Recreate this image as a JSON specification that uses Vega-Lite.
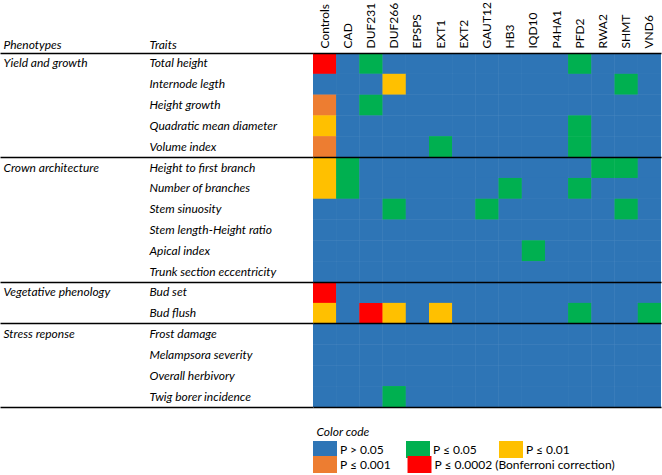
{
  "$schema": "https://vega.github.io/schema/vega-lite/v6.json",
  "width": 348,
  "height": 354,
  "autosize": {"type": "none"},
  "padding": {"left": 313, "top": 53, "right": 1, "bottom": 68},
  "config": {
    "view": {"stroke": null},
    "font": "Lato",
    "axis": {"labelFont": "Lato", "titleFont": "Lato", "labelColor": "#000", "titleColor": "#000"},
    "legend": {"titleFont": "Lato", "labelFont": "Lato", "titleColor": "#000", "labelColor": "#000"}
  },
  "data": {"values": [
    {"trait":"Total height","gene":"Controls","p":"P ≤ 0.0002 (Bonferroni correction)"},
    {"trait":"Total height","gene":"CAD","p":"P > 0.05"},
    {"trait":"Total height","gene":"DUF231","p":"P ≤ 0.05"},
    {"trait":"Total height","gene":"DUF266","p":"P > 0.05"},
    {"trait":"Total height","gene":"EPSPS","p":"P > 0.05"},
    {"trait":"Total height","gene":"EXT1","p":"P > 0.05"},
    {"trait":"Total height","gene":"EXT2","p":"P > 0.05"},
    {"trait":"Total height","gene":"GAUT12","p":"P > 0.05"},
    {"trait":"Total height","gene":"HB3","p":"P > 0.05"},
    {"trait":"Total height","gene":"IQD10","p":"P > 0.05"},
    {"trait":"Total height","gene":"P4HA1","p":"P > 0.05"},
    {"trait":"Total height","gene":"PFD2","p":"P ≤ 0.05"},
    {"trait":"Total height","gene":"RWA2","p":"P > 0.05"},
    {"trait":"Total height","gene":"SHMT","p":"P > 0.05"},
    {"trait":"Total height","gene":"VND6","p":"P > 0.05"},
    {"trait":"Internode legth","gene":"Controls","p":"P > 0.05"},
    {"trait":"Internode legth","gene":"CAD","p":"P > 0.05"},
    {"trait":"Internode legth","gene":"DUF231","p":"P > 0.05"},
    {"trait":"Internode legth","gene":"DUF266","p":"P ≤ 0.01"},
    {"trait":"Internode legth","gene":"EPSPS","p":"P > 0.05"},
    {"trait":"Internode legth","gene":"EXT1","p":"P > 0.05"},
    {"trait":"Internode legth","gene":"EXT2","p":"P > 0.05"},
    {"trait":"Internode legth","gene":"GAUT12","p":"P > 0.05"},
    {"trait":"Internode legth","gene":"HB3","p":"P > 0.05"},
    {"trait":"Internode legth","gene":"IQD10","p":"P > 0.05"},
    {"trait":"Internode legth","gene":"P4HA1","p":"P > 0.05"},
    {"trait":"Internode legth","gene":"PFD2","p":"P > 0.05"},
    {"trait":"Internode legth","gene":"RWA2","p":"P > 0.05"},
    {"trait":"Internode legth","gene":"SHMT","p":"P ≤ 0.05"},
    {"trait":"Internode legth","gene":"VND6","p":"P > 0.05"},
    {"trait":"Height growth","gene":"Controls","p":"P ≤ 0.001"},
    {"trait":"Height growth","gene":"CAD","p":"P > 0.05"},
    {"trait":"Height growth","gene":"DUF231","p":"P ≤ 0.05"},
    {"trait":"Height growth","gene":"DUF266","p":"P > 0.05"},
    {"trait":"Height growth","gene":"EPSPS","p":"P > 0.05"},
    {"trait":"Height growth","gene":"EXT1","p":"P > 0.05"},
    {"trait":"Height growth","gene":"EXT2","p":"P > 0.05"},
    {"trait":"Height growth","gene":"GAUT12","p":"P > 0.05"},
    {"trait":"Height growth","gene":"HB3","p":"P > 0.05"},
    {"trait":"Height growth","gene":"IQD10","p":"P > 0.05"},
    {"trait":"Height growth","gene":"P4HA1","p":"P > 0.05"},
    {"trait":"Height growth","gene":"PFD2","p":"P > 0.05"},
    {"trait":"Height growth","gene":"RWA2","p":"P > 0.05"},
    {"trait":"Height growth","gene":"SHMT","p":"P > 0.05"},
    {"trait":"Height growth","gene":"VND6","p":"P > 0.05"},
    {"trait":"Quadratic mean diameter","gene":"Controls","p":"P ≤ 0.01"},
    {"trait":"Quadratic mean diameter","gene":"CAD","p":"P > 0.05"},
    {"trait":"Quadratic mean diameter","gene":"DUF231","p":"P > 0.05"},
    {"trait":"Quadratic mean diameter","gene":"DUF266","p":"P > 0.05"},
    {"trait":"Quadratic mean diameter","gene":"EPSPS","p":"P > 0.05"},
    {"trait":"Quadratic mean diameter","gene":"EXT1","p":"P > 0.05"},
    {"trait":"Quadratic mean diameter","gene":"EXT2","p":"P > 0.05"},
    {"trait":"Quadratic mean diameter","gene":"GAUT12","p":"P > 0.05"},
    {"trait":"Quadratic mean diameter","gene":"HB3","p":"P > 0.05"},
    {"trait":"Quadratic mean diameter","gene":"IQD10","p":"P > 0.05"},
    {"trait":"Quadratic mean diameter","gene":"P4HA1","p":"P > 0.05"},
    {"trait":"Quadratic mean diameter","gene":"PFD2","p":"P ≤ 0.05"},
    {"trait":"Quadratic mean diameter","gene":"RWA2","p":"P > 0.05"},
    {"trait":"Quadratic mean diameter","gene":"SHMT","p":"P > 0.05"},
    {"trait":"Quadratic mean diameter","gene":"VND6","p":"P > 0.05"},
    {"trait":"Volume index","gene":"Controls","p":"P ≤ 0.001"},
    {"trait":"Volume index","gene":"CAD","p":"P > 0.05"},
    {"trait":"Volume index","gene":"DUF231","p":"P > 0.05"},
    {"trait":"Volume index","gene":"DUF266","p":"P > 0.05"},
    {"trait":"Volume index","gene":"EPSPS","p":"P > 0.05"},
    {"trait":"Volume index","gene":"EXT1","p":"P ≤ 0.05"},
    {"trait":"Volume index","gene":"EXT2","p":"P > 0.05"},
    {"trait":"Volume index","gene":"GAUT12","p":"P > 0.05"},
    {"trait":"Volume index","gene":"HB3","p":"P > 0.05"},
    {"trait":"Volume index","gene":"IQD10","p":"P > 0.05"},
    {"trait":"Volume index","gene":"P4HA1","p":"P > 0.05"},
    {"trait":"Volume index","gene":"PFD2","p":"P ≤ 0.05"},
    {"trait":"Volume index","gene":"RWA2","p":"P > 0.05"},
    {"trait":"Volume index","gene":"SHMT","p":"P > 0.05"},
    {"trait":"Volume index","gene":"VND6","p":"P > 0.05"},
    {"trait":"Height to first branch","gene":"Controls","p":"P ≤ 0.01"},
    {"trait":"Height to first branch","gene":"CAD","p":"P ≤ 0.05"},
    {"trait":"Height to first branch","gene":"DUF231","p":"P > 0.05"},
    {"trait":"Height to first branch","gene":"DUF266","p":"P > 0.05"},
    {"trait":"Height to first branch","gene":"EPSPS","p":"P > 0.05"},
    {"trait":"Height to first branch","gene":"EXT1","p":"P > 0.05"},
    {"trait":"Height to first branch","gene":"EXT2","p":"P > 0.05"},
    {"trait":"Height to first branch","gene":"GAUT12","p":"P > 0.05"},
    {"trait":"Height to first branch","gene":"HB3","p":"P > 0.05"},
    {"trait":"Height to first branch","gene":"IQD10","p":"P > 0.05"},
    {"trait":"Height to first branch","gene":"P4HA1","p":"P > 0.05"},
    {"trait":"Height to first branch","gene":"PFD2","p":"P > 0.05"},
    {"trait":"Height to first branch","gene":"RWA2","p":"P ≤ 0.05"},
    {"trait":"Height to first branch","gene":"SHMT","p":"P ≤ 0.05"},
    {"trait":"Height to first branch","gene":"VND6","p":"P > 0.05"},
    {"trait":"Number of branches","gene":"Controls","p":"P ≤ 0.01"},
    {"trait":"Number of branches","gene":"CAD","p":"P ≤ 0.05"},
    {"trait":"Number of branches","gene":"DUF231","p":"P > 0.05"},
    {"trait":"Number of branches","gene":"DUF266","p":"P > 0.05"},
    {"trait":"Number of branches","gene":"EPSPS","p":"P > 0.05"},
    {"trait":"Number of branches","gene":"EXT1","p":"P > 0.05"},
    {"trait":"Number of branches","gene":"EXT2","p":"P > 0.05"},
    {"trait":"Number of branches","gene":"GAUT12","p":"P > 0.05"},
    {"trait":"Number of branches","gene":"HB3","p":"P ≤ 0.05"},
    {"trait":"Number of branches","gene":"IQD10","p":"P > 0.05"},
    {"trait":"Number of branches","gene":"P4HA1","p":"P > 0.05"},
    {"trait":"Number of branches","gene":"PFD2","p":"P ≤ 0.05"},
    {"trait":"Number of branches","gene":"RWA2","p":"P > 0.05"},
    {"trait":"Number of branches","gene":"SHMT","p":"P > 0.05"},
    {"trait":"Number of branches","gene":"VND6","p":"P > 0.05"},
    {"trait":"Stem sinuosity","gene":"Controls","p":"P > 0.05"},
    {"trait":"Stem sinuosity","gene":"CAD","p":"P > 0.05"},
    {"trait":"Stem sinuosity","gene":"DUF231","p":"P > 0.05"},
    {"trait":"Stem sinuosity","gene":"DUF266","p":"P ≤ 0.05"},
    {"trait":"Stem sinuosity","gene":"EPSPS","p":"P > 0.05"},
    {"trait":"Stem sinuosity","gene":"EXT1","p":"P > 0.05"},
    {"trait":"Stem sinuosity","gene":"EXT2","p":"P > 0.05"},
    {"trait":"Stem sinuosity","gene":"GAUT12","p":"P ≤ 0.05"},
    {"trait":"Stem sinuosity","gene":"HB3","p":"P > 0.05"},
    {"trait":"Stem sinuosity","gene":"IQD10","p":"P > 0.05"},
    {"trait":"Stem sinuosity","gene":"P4HA1","p":"P > 0.05"},
    {"trait":"Stem sinuosity","gene":"PFD2","p":"P > 0.05"},
    {"trait":"Stem sinuosity","gene":"RWA2","p":"P > 0.05"},
    {"trait":"Stem sinuosity","gene":"SHMT","p":"P ≤ 0.05"},
    {"trait":"Stem sinuosity","gene":"VND6","p":"P > 0.05"},
    {"trait":"Stem length-Height ratio","gene":"Controls","p":"P > 0.05"},
    {"trait":"Stem length-Height ratio","gene":"CAD","p":"P > 0.05"},
    {"trait":"Stem length-Height ratio","gene":"DUF231","p":"P > 0.05"},
    {"trait":"Stem length-Height ratio","gene":"DUF266","p":"P > 0.05"},
    {"trait":"Stem length-Height ratio","gene":"EPSPS","p":"P > 0.05"},
    {"trait":"Stem length-Height ratio","gene":"EXT1","p":"P > 0.05"},
    {"trait":"Stem length-Height ratio","gene":"EXT2","p":"P > 0.05"},
    {"trait":"Stem length-Height ratio","gene":"GAUT12","p":"P > 0.05"},
    {"trait":"Stem length-Height ratio","gene":"HB3","p":"P > 0.05"},
    {"trait":"Stem length-Height ratio","gene":"IQD10","p":"P > 0.05"},
    {"trait":"Stem length-Height ratio","gene":"P4HA1","p":"P > 0.05"},
    {"trait":"Stem length-Height ratio","gene":"PFD2","p":"P > 0.05"},
    {"trait":"Stem length-Height ratio","gene":"RWA2","p":"P > 0.05"},
    {"trait":"Stem length-Height ratio","gene":"SHMT","p":"P > 0.05"},
    {"trait":"Stem length-Height ratio","gene":"VND6","p":"P > 0.05"},
    {"trait":"Apical index","gene":"Controls","p":"P > 0.05"},
    {"trait":"Apical index","gene":"CAD","p":"P > 0.05"},
    {"trait":"Apical index","gene":"DUF231","p":"P > 0.05"},
    {"trait":"Apical index","gene":"DUF266","p":"P > 0.05"},
    {"trait":"Apical index","gene":"EPSPS","p":"P > 0.05"},
    {"trait":"Apical index","gene":"EXT1","p":"P > 0.05"},
    {"trait":"Apical index","gene":"EXT2","p":"P > 0.05"},
    {"trait":"Apical index","gene":"GAUT12","p":"P > 0.05"},
    {"trait":"Apical index","gene":"HB3","p":"P > 0.05"},
    {"trait":"Apical index","gene":"IQD10","p":"P ≤ 0.05"},
    {"trait":"Apical index","gene":"P4HA1","p":"P > 0.05"},
    {"trait":"Apical index","gene":"PFD2","p":"P > 0.05"},
    {"trait":"Apical index","gene":"RWA2","p":"P > 0.05"},
    {"trait":"Apical index","gene":"SHMT","p":"P > 0.05"},
    {"trait":"Apical index","gene":"VND6","p":"P > 0.05"},
    {"trait":"Trunk section eccentricity","gene":"Controls","p":"P > 0.05"},
    {"trait":"Trunk section eccentricity","gene":"CAD","p":"P > 0.05"},
    {"trait":"Trunk section eccentricity","gene":"DUF231","p":"P > 0.05"},
    {"trait":"Trunk section eccentricity","gene":"DUF266","p":"P > 0.05"},
    {"trait":"Trunk section eccentricity","gene":"EPSPS","p":"P > 0.05"},
    {"trait":"Trunk section eccentricity","gene":"EXT1","p":"P > 0.05"},
    {"trait":"Trunk section eccentricity","gene":"EXT2","p":"P > 0.05"},
    {"trait":"Trunk section eccentricity","gene":"GAUT12","p":"P > 0.05"},
    {"trait":"Trunk section eccentricity","gene":"HB3","p":"P > 0.05"},
    {"trait":"Trunk section eccentricity","gene":"IQD10","p":"P > 0.05"},
    {"trait":"Trunk section eccentricity","gene":"P4HA1","p":"P > 0.05"},
    {"trait":"Trunk section eccentricity","gene":"PFD2","p":"P > 0.05"},
    {"trait":"Trunk section eccentricity","gene":"RWA2","p":"P > 0.05"},
    {"trait":"Trunk section eccentricity","gene":"SHMT","p":"P > 0.05"},
    {"trait":"Trunk section eccentricity","gene":"VND6","p":"P > 0.05"},
    {"trait":"Bud set","gene":"Controls","p":"P ≤ 0.0002 (Bonferroni correction)"},
    {"trait":"Bud set","gene":"CAD","p":"P > 0.05"},
    {"trait":"Bud set","gene":"DUF231","p":"P > 0.05"},
    {"trait":"Bud set","gene":"DUF266","p":"P > 0.05"},
    {"trait":"Bud set","gene":"EPSPS","p":"P > 0.05"},
    {"trait":"Bud set","gene":"EXT1","p":"P > 0.05"},
    {"trait":"Bud set","gene":"EXT2","p":"P > 0.05"},
    {"trait":"Bud set","gene":"GAUT12","p":"P > 0.05"},
    {"trait":"Bud set","gene":"HB3","p":"P > 0.05"},
    {"trait":"Bud set","gene":"IQD10","p":"P > 0.05"},
    {"trait":"Bud set","gene":"P4HA1","p":"P > 0.05"},
    {"trait":"Bud set","gene":"PFD2","p":"P > 0.05"},
    {"trait":"Bud set","gene":"RWA2","p":"P > 0.05"},
    {"trait":"Bud set","gene":"SHMT","p":"P > 0.05"},
    {"trait":"Bud set","gene":"VND6","p":"P > 0.05"},
    {"trait":"Bud flush","gene":"Controls","p":"P ≤ 0.01"},
    {"trait":"Bud flush","gene":"CAD","p":"P > 0.05"},
    {"trait":"Bud flush","gene":"DUF231","p":"P ≤ 0.0002 (Bonferroni correction)"},
    {"trait":"Bud flush","gene":"DUF266","p":"P ≤ 0.01"},
    {"trait":"Bud flush","gene":"EPSPS","p":"P > 0.05"},
    {"trait":"Bud flush","gene":"EXT1","p":"P ≤ 0.01"},
    {"trait":"Bud flush","gene":"EXT2","p":"P > 0.05"},
    {"trait":"Bud flush","gene":"GAUT12","p":"P > 0.05"},
    {"trait":"Bud flush","gene":"HB3","p":"P > 0.05"},
    {"trait":"Bud flush","gene":"IQD10","p":"P > 0.05"},
    {"trait":"Bud flush","gene":"P4HA1","p":"P > 0.05"},
    {"trait":"Bud flush","gene":"PFD2","p":"P ≤ 0.05"},
    {"trait":"Bud flush","gene":"RWA2","p":"P > 0.05"},
    {"trait":"Bud flush","gene":"SHMT","p":"P > 0.05"},
    {"trait":"Bud flush","gene":"VND6","p":"P ≤ 0.05"},
    {"trait":"Frost damage","gene":"Controls","p":"P > 0.05"},
    {"trait":"Frost damage","gene":"CAD","p":"P > 0.05"},
    {"trait":"Frost damage","gene":"DUF231","p":"P > 0.05"},
    {"trait":"Frost damage","gene":"DUF266","p":"P > 0.05"},
    {"trait":"Frost damage","gene":"EPSPS","p":"P > 0.05"},
    {"trait":"Frost damage","gene":"EXT1","p":"P > 0.05"},
    {"trait":"Frost damage","gene":"EXT2","p":"P > 0.05"},
    {"trait":"Frost damage","gene":"GAUT12","p":"P > 0.05"},
    {"trait":"Frost damage","gene":"HB3","p":"P > 0.05"},
    {"trait":"Frost damage","gene":"IQD10","p":"P > 0.05"},
    {"trait":"Frost damage","gene":"P4HA1","p":"P > 0.05"},
    {"trait":"Frost damage","gene":"PFD2","p":"P > 0.05"},
    {"trait":"Frost damage","gene":"RWA2","p":"P > 0.05"},
    {"trait":"Frost damage","gene":"SHMT","p":"P > 0.05"},
    {"trait":"Frost damage","gene":"VND6","p":"P > 0.05"},
    {"trait":"Melampsora severity","gene":"Controls","p":"P > 0.05"},
    {"trait":"Melampsora severity","gene":"CAD","p":"P > 0.05"},
    {"trait":"Melampsora severity","gene":"DUF231","p":"P > 0.05"},
    {"trait":"Melampsora severity","gene":"DUF266","p":"P > 0.05"},
    {"trait":"Melampsora severity","gene":"EPSPS","p":"P > 0.05"},
    {"trait":"Melampsora severity","gene":"EXT1","p":"P > 0.05"},
    {"trait":"Melampsora severity","gene":"EXT2","p":"P > 0.05"},
    {"trait":"Melampsora severity","gene":"GAUT12","p":"P > 0.05"},
    {"trait":"Melampsora severity","gene":"HB3","p":"P > 0.05"},
    {"trait":"Melampsora severity","gene":"IQD10","p":"P > 0.05"},
    {"trait":"Melampsora severity","gene":"P4HA1","p":"P > 0.05"},
    {"trait":"Melampsora severity","gene":"PFD2","p":"P > 0.05"},
    {"trait":"Melampsora severity","gene":"RWA2","p":"P > 0.05"},
    {"trait":"Melampsora severity","gene":"SHMT","p":"P > 0.05"},
    {"trait":"Melampsora severity","gene":"VND6","p":"P > 0.05"},
    {"trait":"Overall herbivory","gene":"Controls","p":"P > 0.05"},
    {"trait":"Overall herbivory","gene":"CAD","p":"P > 0.05"},
    {"trait":"Overall herbivory","gene":"DUF231","p":"P > 0.05"},
    {"trait":"Overall herbivory","gene":"DUF266","p":"P > 0.05"},
    {"trait":"Overall herbivory","gene":"EPSPS","p":"P > 0.05"},
    {"trait":"Overall herbivory","gene":"EXT1","p":"P > 0.05"},
    {"trait":"Overall herbivory","gene":"EXT2","p":"P > 0.05"},
    {"trait":"Overall herbivory","gene":"GAUT12","p":"P > 0.05"},
    {"trait":"Overall herbivory","gene":"HB3","p":"P > 0.05"},
    {"trait":"Overall herbivory","gene":"IQD10","p":"P > 0.05"},
    {"trait":"Overall herbivory","gene":"P4HA1","p":"P > 0.05"},
    {"trait":"Overall herbivory","gene":"PFD2","p":"P > 0.05"},
    {"trait":"Overall herbivory","gene":"RWA2","p":"P > 0.05"},
    {"trait":"Overall herbivory","gene":"SHMT","p":"P > 0.05"},
    {"trait":"Overall herbivory","gene":"VND6","p":"P > 0.05"},
    {"trait":"Twig borer incidence","gene":"Controls","p":"P > 0.05"},
    {"trait":"Twig borer incidence","gene":"CAD","p":"P > 0.05"},
    {"trait":"Twig borer incidence","gene":"DUF231","p":"P > 0.05"},
    {"trait":"Twig borer incidence","gene":"DUF266","p":"P ≤ 0.05"},
    {"trait":"Twig borer incidence","gene":"EPSPS","p":"P > 0.05"},
    {"trait":"Twig borer incidence","gene":"EXT1","p":"P > 0.05"},
    {"trait":"Twig borer incidence","gene":"EXT2","p":"P > 0.05"},
    {"trait":"Twig borer incidence","gene":"GAUT12","p":"P > 0.05"},
    {"trait":"Twig borer incidence","gene":"HB3","p":"P > 0.05"},
    {"trait":"Twig borer incidence","gene":"IQD10","p":"P > 0.05"},
    {"trait":"Twig borer incidence","gene":"P4HA1","p":"P > 0.05"},
    {"trait":"Twig borer incidence","gene":"PFD2","p":"P > 0.05"},
    {"trait":"Twig borer incidence","gene":"RWA2","p":"P > 0.05"},
    {"trait":"Twig borer incidence","gene":"SHMT","p":"P > 0.05"},
    {"trait":"Twig borer incidence","gene":"VND6","p":"P > 0.05"}
  ]},
  "layer": [
    {
      "mark": {"type": "rect"},
      "encoding": {
        "x": {"field": "gene", "type": "nominal",
          "sort": ["Controls","CAD","DUF231","DUF266","EPSPS","EXT1","EXT2","GAUT12","HB3","IQD10","P4HA1","PFD2","RWA2","SHMT","VND6"],
          "axis": {"orient": "top", "title": null, "labelAngle": -90, "labelAlign": "left", "labelBaseline": "middle", "labelPadding": 5, "ticks": false, "domain": false, "labelFontSize": 12, "labelOverlap": false}},
        "y": {"field": "trait", "type": "nominal",
          "sort": ["Total height","Internode legth","Height growth","Quadratic mean diameter","Volume index","Height to first branch","Number of branches","Stem sinuosity","Stem length-Height ratio","Apical index","Trunk section eccentricity","Bud set","Bud flush","Frost damage","Melampsora severity","Overall herbivory","Twig borer incidence"],
          "axis": {"orient": "left", "title": "Traits", "titleAngle": 0, "titleX": -164, "titleY": -5, "titleAlign": "left", "titleBaseline": "alphabetic", "titleFontWeight": "normal", "titleFontStyle": "italic", "titleFontSize": 12,
            "labelAlign": "left", "labelPadding": 164, "ticks": false, "domain": false, "grid": false, "labelFontSize": 12, "labelFontStyle": "italic", "labelOverlap": false, "labelLimit": 300}},
        "color": {"field": "p", "type": "nominal",
          "scale": {"domain": ["P > 0.05","P ≤ 0.05","P ≤ 0.01","P ≤ 0.001","P ≤ 0.0002 (Bonferroni correction)"],
                    "range": ["#2E75B6","#00B050","#FFC000","#ED7D31","#FF0000"]},
          "legend": {"title": "Color code", "values": ["P > 0.05","P ≤ 0.05","P ≤ 0.01"], "orient": "none", "legendX": 3.5, "legendY": 374, "direction": "horizontal", "columns": 3, "columnPadding": 21, "rowPadding": 0,
            "titleFontStyle": "italic", "titleFontWeight": "normal", "titleFontSize": 12, "titlePadding": 2,
            "labelFontSize": 12, "labelOffset": 6.5, "labelLimit": 300,
            "symbolType": "M-1.41,-1L1.41,-1L1.41,1L-1.41,1Z", "symbolSize": 289, "symbolStrokeWidth": 0, "symbolOpacity": 1}}
      }
    },
    {
      "mark": {"type": "rect"},
      "encoding": {
        "x": {"field": "gene", "type": "nominal", "sort": ["Controls","CAD","DUF231","DUF266","EPSPS","EXT1","EXT2","GAUT12","HB3","IQD10","P4HA1","PFD2","RWA2","SHMT","VND6"], "axis": null},
        "y": {"field": "trait", "type": "nominal",
          "sort": ["Total height","Internode legth","Height growth","Quadratic mean diameter","Volume index","Height to first branch","Number of branches","Stem sinuosity","Stem length-Height ratio","Apical index","Trunk section eccentricity","Bud set","Bud flush","Frost damage","Melampsora severity","Overall herbivory","Twig borer incidence"],
          "axis": {"orient": "left", "title": "Phenotypes", "titleAngle": 0, "titleX": -310, "titleY": -5, "titleAlign": "left", "titleBaseline": "alphabetic", "titleFontWeight": "normal", "titleFontStyle": "italic", "titleFontSize": 12,
            "values": ["Total height","Height to first branch","Bud set","Frost damage"],
            "labelExpr": "datum.value == 'Total height' ? 'Yield and growth' : datum.value == 'Height to first branch' ? 'Crown architecture' : datum.value == 'Bud set' ? 'Vegetative phenology' : 'Stress reponse'",
            "labelAlign": "left", "labelPadding": 310, "ticks": false, "domain": false, "grid": false, "labelFontSize": 12, "labelFontStyle": "italic", "labelOverlap": false, "labelLimit": 300}},
        "color": {"field": "p", "type": "nominal",
          "scale": {"domain": ["P > 0.05","P ≤ 0.05","P ≤ 0.01","P ≤ 0.001","P ≤ 0.0002 (Bonferroni correction)"],
                    "range": ["#2E75B6","#00B050","#FFC000","#ED7D31","#FF0000"]},
          "legend": {"title": null, "values": ["P ≤ 0.001","P ≤ 0.0002 (Bonferroni correction)"], "orient": "none", "legendX": 3.5, "legendY": 403, "direction": "horizontal", "columns": 3, "columnPadding": 15.5, "rowPadding": 0,
            "labelFontSize": 12, "labelOffset": 6.5, "labelLimit": 300,
            "symbolType": "M-1.41,-1L1.41,-1L1.41,1L-1.41,1Z", "symbolSize": 289, "symbolStrokeWidth": 0, "symbolOpacity": 1}}
      }
    },
    {
      "mark": {"type": "rect", "opacity": 0},
      "encoding": {
        "x": {"field": "gene", "type": "nominal", "sort": ["Controls","CAD","DUF231","DUF266","EPSPS","EXT1","EXT2","GAUT12","HB3","IQD10","P4HA1","PFD2","RWA2","SHMT","VND6"], "axis": null},
        "y": {"field": "trait", "type": "nominal",
          "sort": ["Total height","Internode legth","Height growth","Quadratic mean diameter","Volume index","Height to first branch","Number of branches","Stem sinuosity","Stem length-Height ratio","Apical index","Trunk section eccentricity","Bud set","Bud flush","Frost damage","Melampsora severity","Overall herbivory","Twig borer incidence"],
          "axis": {"orient": "left", "title": null, "values": ["Total height","Height to first branch","Bud set","Frost damage"], "bandPosition": 0,
            "labels": false, "domain": false, "ticks": true, "tickSize": 313, "tickColor": "#000", "tickWidth": 1.5, "tickOpacity": 1,
            "grid": true, "gridColor": "#000", "gridWidth": 1.5, "gridOpacity": 1, "zindex": 2}}
      }
    },
    {
      "mark": {"type": "rect", "opacity": 0},
      "encoding": {
        "x": {"field": "gene", "type": "nominal", "sort": ["Controls","CAD","DUF231","DUF266","EPSPS","EXT1","EXT2","GAUT12","HB3","IQD10","P4HA1","PFD2","RWA2","SHMT","VND6"], "axis": null},
        "y": {"field": "trait", "type": "nominal",
          "sort": ["Total height","Internode legth","Height growth","Quadratic mean diameter","Volume index","Height to first branch","Number of branches","Stem sinuosity","Stem length-Height ratio","Apical index","Trunk section eccentricity","Bud set","Bud flush","Frost damage","Melampsora severity","Overall herbivory","Twig borer incidence"],
          "axis": {"orient": "left", "title": null, "values": ["Twig borer incidence"], "bandPosition": 1,
            "labels": false, "domain": false, "ticks": true, "tickSize": 313, "tickColor": "#000", "tickWidth": 1.5, "tickOpacity": 1,
            "grid": true, "gridColor": "#000", "gridWidth": 1.5, "gridOpacity": 1, "zindex": 2}}
      }
    }
  ],
  "resolve": {"axis": {"y": "independent", "x": "independent"}, "scale": {"color": "independent"}}
}
